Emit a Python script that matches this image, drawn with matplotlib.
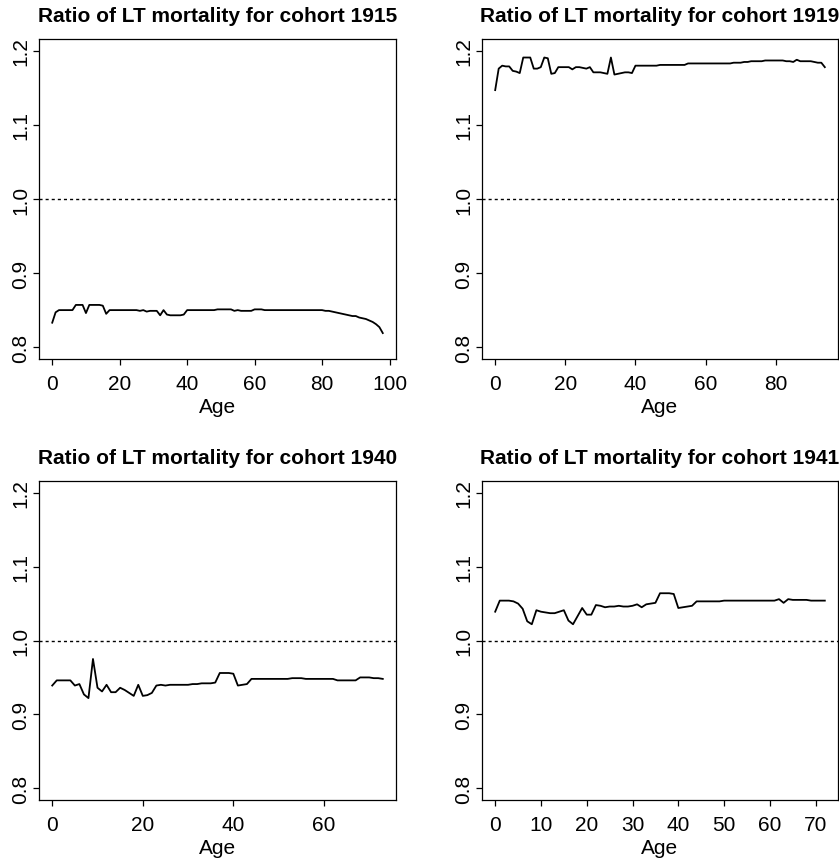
import numpy as np
import matplotlib
matplotlib.use("Agg")
import matplotlib.pyplot as plt

plt.rcParams["font.family"] = ["Liberation Sans", "DejaVu Sans"]

# ── data (ratio by single year of age) ────────────────────────────────────────

cohorts = [1915, 1919, 1940, 1941]

ratio_1915 = [
    0.833, 0.847, 0.850, 0.850, 0.850, 0.850, 0.850, 0.857, 0.857, 0.857,
    0.846, 0.857, 0.857, 0.857, 0.857, 0.856, 0.845, 0.850, 0.850, 0.850,
    0.850, 0.850, 0.850, 0.850, 0.850, 0.850, 0.849, 0.850, 0.848, 0.849,
    0.849, 0.849, 0.843, 0.850, 0.844, 0.843, 0.843, 0.843, 0.843, 0.844,
    0.850, 0.850, 0.850, 0.850, 0.850, 0.850, 0.850, 0.850, 0.850, 0.851,
    0.851, 0.851, 0.851, 0.851, 0.849, 0.850, 0.849, 0.849, 0.849, 0.849,
    0.851, 0.851, 0.851, 0.850, 0.850, 0.850, 0.850, 0.850, 0.850, 0.850,
    0.850, 0.850, 0.850, 0.850, 0.850, 0.850, 0.850, 0.850, 0.850, 0.850,
    0.850, 0.849, 0.849, 0.848, 0.847, 0.846, 0.845, 0.844, 0.843, 0.842,
    0.842, 0.840, 0.839, 0.838, 0.836, 0.834, 0.831, 0.827, 0.819,
]

ratio_1919 = [
    1.147, 1.176, 1.180, 1.179, 1.179, 1.173, 1.172, 1.170, 1.191, 1.191,
    1.191, 1.176, 1.176, 1.178, 1.191, 1.190, 1.169, 1.170, 1.178, 1.178,
    1.178, 1.178, 1.175, 1.178, 1.178, 1.177, 1.176, 1.178, 1.171, 1.171,
    1.171, 1.170, 1.169, 1.191, 1.168, 1.169, 1.170, 1.171, 1.171, 1.170,
    1.180, 1.180, 1.180, 1.180, 1.180, 1.180, 1.180, 1.181, 1.181, 1.181,
    1.181, 1.181, 1.181, 1.181, 1.181, 1.183, 1.183, 1.183, 1.183, 1.183,
    1.183, 1.183, 1.183, 1.183, 1.183, 1.183, 1.183, 1.183, 1.184, 1.184,
    1.184, 1.185, 1.185, 1.186, 1.186, 1.186, 1.186, 1.187, 1.187, 1.187,
    1.187, 1.187, 1.187, 1.186, 1.186, 1.185, 1.188, 1.186, 1.186, 1.186,
    1.186, 1.185, 1.184, 1.184, 1.178,
]

ratio_1940 = [
    0.939, 0.946, 0.946, 0.946, 0.946, 0.939, 0.941, 0.927, 0.922, 0.975,
    0.936, 0.931, 0.940, 0.930, 0.930, 0.936, 0.933, 0.929, 0.925, 0.940,
    0.925, 0.926, 0.929, 0.939, 0.940, 0.939, 0.940, 0.940, 0.940, 0.940,
    0.940, 0.941, 0.941, 0.942, 0.942, 0.942, 0.943, 0.956, 0.956, 0.956,
    0.955, 0.939, 0.940, 0.941, 0.948, 0.948, 0.948, 0.948, 0.948, 0.948,
    0.948, 0.948, 0.948, 0.949, 0.949, 0.949, 0.948, 0.948, 0.948, 0.948,
    0.948, 0.948, 0.948, 0.946, 0.946, 0.946, 0.946, 0.946, 0.950, 0.950,
    0.950, 0.949, 0.949, 0.948,
]

ratio_1941 = [
    1.039, 1.054, 1.054, 1.054, 1.053, 1.050, 1.043, 1.026, 1.022, 1.041,
    1.039, 1.038, 1.037, 1.037, 1.039, 1.041, 1.027, 1.022, 1.033, 1.044,
    1.035, 1.035, 1.048, 1.047, 1.045, 1.046, 1.046, 1.047, 1.046, 1.046,
    1.047, 1.049, 1.045, 1.049, 1.050, 1.051, 1.064, 1.064, 1.064, 1.063,
    1.044, 1.045, 1.046, 1.047, 1.053, 1.053, 1.053, 1.053, 1.053, 1.053,
    1.054, 1.054, 1.054, 1.054, 1.054, 1.054, 1.054, 1.054, 1.054, 1.054,
    1.054, 1.054, 1.056, 1.051, 1.056, 1.055, 1.055, 1.055, 1.055, 1.054,
    1.054, 1.054, 1.054,
]

x_ticks = [
    [0, 20, 40, 60, 80, 100],
    [0, 20, 40, 60, 80],
    [0, 20, 40, 60],
    [0, 10, 20, 30, 40, 50, 60, 70],
]
y_ticks = [0.8, 0.9, 1.0, 1.1, 1.2]

# ── layout (R-style 2x2 base plots) ──────────────────────────────────────────

W, H = 839, 862
fig = plt.figure(figsize=(W / 100, H / 100), dpi=100)
fig.patch.set_facecolor("white")

# axes boxes in pixels: (left, top, right, bottom)
boxes = [
    (39, 40, 396, 360),
    (482, 40, 838, 360),
    (39, 482, 396, 801),
    (482, 482, 838, 801),
]

series = [ratio_1915, ratio_1919, ratio_1940, ratio_1941]

for i, (cohort, ratio) in enumerate(zip(cohorts, series)):
    l, t, r, b = boxes[i]
    ax = fig.add_axes([l / W, 1 - b / H, (r - l) / W, (b - t) / H])
    ages = np.arange(len(ratio))

    ax.plot(ages, ratio, color="black", lw=1.3, solid_joinstyle="round")
    ax.axhline(1.0, color="black", lw=1.0, linestyle=(0, (2.2, 2.2)))

    n = ages[-1]
    ax.set_xlim(-0.04 * n, 1.04 * n)
    ax.set_ylim(0.784, 1.216)
    ax.set_xticks(x_ticks[i])
    ax.set_yticks(y_ticks)
    ax.set_yticklabels([f"{v:.1f}" for v in y_ticks], rotation=90, va="center")

    ax.tick_params(axis="both", direction="out", length=4.5, width=0.9,
                   labelsize=15, colors="black")
    ax.tick_params(axis="x", pad=6)
    ax.tick_params(axis="y", pad=2)
    for s in ax.spines.values():
        s.set_linewidth(0.9)

    ax.set_xlabel("Age", fontsize=15, labelpad=3)
    ax.set_title(f"Ratio of LT mortality for cohort {cohort}",
                 fontsize=15, fontweight="bold", pad=13)

fig.savefig("out.png", dpi=100, facecolor="white")
